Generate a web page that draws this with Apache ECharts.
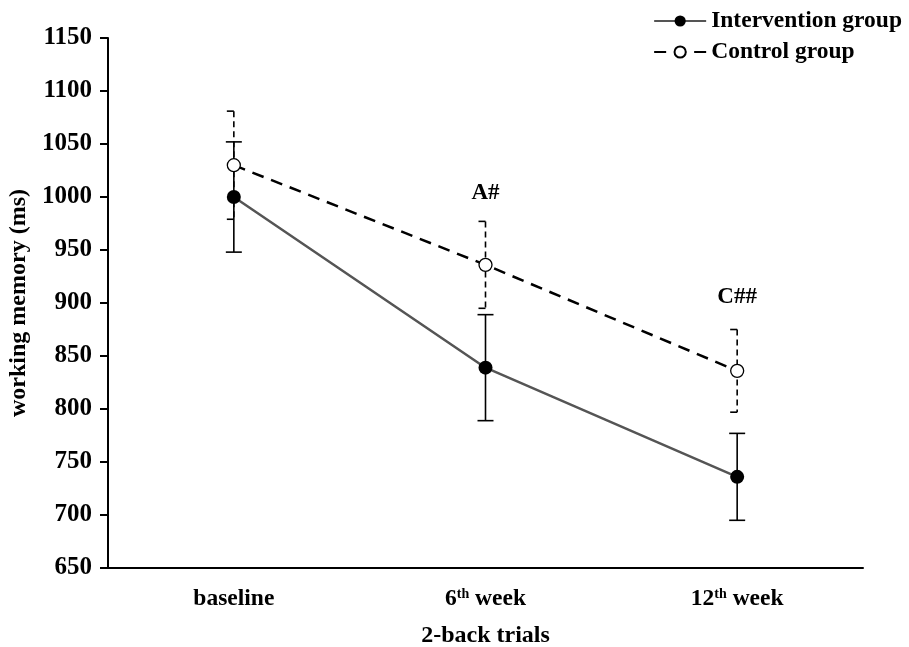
<!DOCTYPE html>
<html>
<head>
<meta charset="utf-8">
<script src="https://cdn.jsdelivr.net/npm/echarts@6/dist/echarts.min.js"></script>
<style>
	html, body { margin: 0; padding: 0; background: #fff; }
	#main { width: 909px; height: 647px; }
</style>
</head>
<body>
<div id="main"></div>
<script>
// 数据
var categories = ['baseline', '6th week', '12th week'];
var interventionMean = [1000, 839, 736];
var interventionErr = [52, 50, 41];
var controlMean = [1030, 936, 836];
var controlErr = [51, 41, 39];
// 显著性标注
var annotCats = [1, 2];
var annotValues = [1004, 906];
var annotTexts = ['A#', 'C##'];

var FONT = '"Liberation Serif", "Times New Roman", serif';

function errData(mean, err) {
	return mean.map(function(m, i) {
		return [i, m - err[i], m + err[i]];
	});
}

// 误差线 full: 两侧帽, 否则只画左侧半帽
function makeErrRender(full, dashed) {
	return function(params, api) {
		var x = api.value(0);
		var lo = api.coord([x, api.value(1)]);
		var hi = api.coord([x, api.value(2)]);
		var w = full ? 8 : 7;
		var style = {
			stroke: '#000',
			lineWidth: 1.6,
			lineDash: dashed ? [6, 4] : null
		};
		var capStyle = { stroke: '#000', lineWidth: 1.6 };
		return {
			type: 'group',
			children: [
				{ type: 'line', shape: { x1: hi[0], y1: hi[1], x2: lo[0], y2: lo[1] }, style: style },
				{ type: 'line', shape: { x1: hi[0] - w, y1: hi[1], x2: full ? hi[0] + w : hi[0], y2: hi[1] }, style: capStyle },
				{ type: 'line', shape: { x1: lo[0] - w, y1: lo[1], x2: full ? lo[0] + w : lo[0], y2: lo[1] }, style: capStyle }
			]
		};
	};
}

var chart = echarts.init(document.getElementById('main'));

var option = {
	backgroundColor: '#fff',
	animation: false,
	textStyle: { fontFamily: FONT },
	grid: { left: 108, right: 46, top: 38, bottom: 79, outerBoundsMode: 'none', containLabel: false },
	legend: {
		data: ['Intervention group', 'Control group'],
		orient: 'vertical',
		right: 2,
		top: 4,
		itemWidth: 52,
		itemHeight: 14,
		itemGap: 7,
		align: 'left',
		textStyle: { fontFamily: FONT, fontWeight: 'bold', fontSize: 23.5, color: '#000' }
	},
	xAxis: {
		type: 'category',
		data: categories,
		boundaryGap: true,
		name: '2-back trials',
		nameLocation: 'middle',
		nameGap: 56,
		nameTextStyle: { fontFamily: FONT, fontWeight: 'bold', fontSize: 24, color: '#000' },
		axisLine: { lineStyle: { color: '#000', width: 2 } },
		axisTick: { alignWithLabel: true, length: 8, lineStyle: { color: '#000', width: 2 } },
		axisLabel: {
			margin: 19,
			fontFamily: FONT,
			fontWeight: 'bold',
			fontSize: 23.5,
			color: '#000',
			formatter: function(v) {
				return v.replace(/(\d+)th/, '$1{sup|th}');
			},
			rich: {
				sup: { fontFamily: FONT, fontWeight: 'bold', fontSize: 14, color: '#000', verticalAlign: 'top', padding: [0, 0, 8, 0] }
			}
		},
		splitLine: { show: false }
	},
	yAxis: {
		type: 'value',
		min: 650,
		max: 1150,
		interval: 50,
		name: 'working memory (ms)',
		nameLocation: 'middle',
		nameGap: 77,
		nameTextStyle: { fontFamily: FONT, fontWeight: 'bold', fontSize: 24, color: '#000' },
		axisLine: { show: true, lineStyle: { color: '#000', width: 2 } },
		axisTick: { show: true, length: 8, lineStyle: { color: '#000', width: 2 } },
		axisLabel: {
			margin: 16,
			fontFamily: FONT,
			fontWeight: 'bold',
			fontSize: 25,
			color: '#000',
			formatter: function(v) { return String(v); }
		},
		splitLine: { show: false }
	},
	series: [
		{
			name: 'intErr',
			type: 'custom',
			renderItem: makeErrRender(true, false),
			data: errData(interventionMean, interventionErr),
			z: 2
		},
		{
			name: 'ctrlErr',
			type: 'custom',
			renderItem: makeErrRender(false, true),
			data: errData(controlMean, controlErr),
			z: 2
		},
		{
			name: 'Intervention group',
			type: 'line',
			data: interventionMean,
			symbol: 'circle',
			symbolSize: 14,
			lineStyle: { color: '#555', width: 2.5 },
			itemStyle: { color: '#000', borderColor: '#000', borderWidth: 0 },
			z: 4
		},
		{
			name: 'Control group',
			type: 'line',
			data: controlMean,
			symbol: 'circle',
			symbolSize: 13,
			lineStyle: { color: '#000', width: 2.5, type: [12, 8] },
			itemStyle: { color: '#fff', borderColor: '#000', borderWidth: 1.3 },
			z: 5
		},
		{
			name: 'annot',
			type: 'scatter',
			symbolSize: 0,
			itemStyle: { opacity: 1 },
			data: annotCats.map(function(c, i) { return [c, annotValues[i]]; }),
			label: {
				show: true,
				position: 'inside',
				fontFamily: FONT,
				fontWeight: 'bold',
				fontSize: 23,
				color: '#000',
				opacity: 1,
				formatter: function(p) { return annotTexts[p.dataIndex]; }
			},
			silent: true,
			z: 6
		}
	]
};

chart.setOption(option);
</script>
</body>
</html>
